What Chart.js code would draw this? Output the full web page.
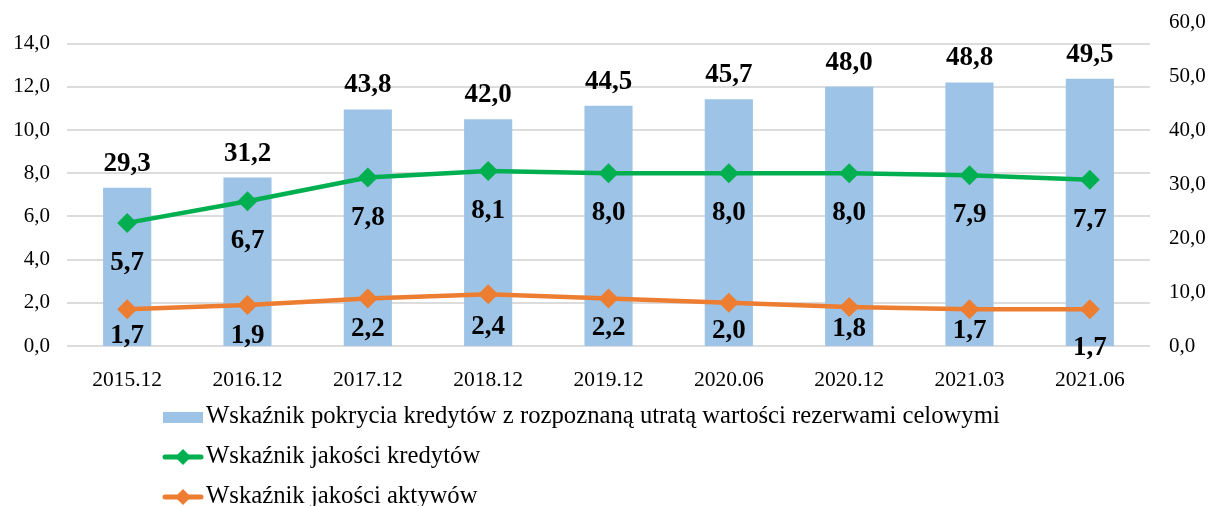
<!DOCTYPE html>
<html>
<head>
<meta charset="utf-8">
<script src="https://cdn.jsdelivr.net/npm/chart.js@4"></script>
<style>
  html, body { margin: 0; padding: 0; background: #fff; }
  canvas { display: block; }
</style>
</head>
<body>
<canvas id="chart" width="1209" height="506"></canvas>
<script>
// ── Data ─────────────────────────────────────────────────
const LABELS = ["2015.12", "2016.12", "2017.12", "2018.12", "2019.12", "2020.06", "2020.12", "2021.03", "2021.06"];
const COVERAGE = [29.3, 31.2, 43.8, 42.0, 44.5, 45.7, 48.0, 48.8, 49.5];
const LOAN_QUALITY = [5.7, 6.7, 7.8, 8.1, 8.0, 8.0, 8.0, 7.9, 7.7];
const ASSET_QUALITY = [1.7, 1.9, 2.2, 2.4, 2.2, 2.0, 1.8, 1.7, 1.7];
const LEFT_TICKS = [0, 2, 4, 6, 8, 10, 12, 14];

const SERIES_NAMES = [
  "Wskaźnik pokrycia kredytów z rozpoznaną utratą wartości rezerwami celowymi",
  "Wskaźnik jakości kredytów",
  "Wskaźnik jakości aktywów"
];

// ── Theme ────────────────────────────────────────────────
const FONT = "'Liberation Serif', 'Times New Roman', serif";
const BLUE = "#9dc3e6";
const GREEN = "#00b050";
const ORANGE = "#ed7d31";
const GRID = "#dcdcdc";

const fmt = v => Number(v).toFixed(1).replace(".", ",");

// ── Value labels (bars above, lines below) ───────────────
const valueLabels = {
  id: "valueLabels",
  afterDatasetsDraw(chart) {
    const { ctx } = chart;
    ctx.save();
    ctx.font = "bold 27px " + FONT;
    ctx.fillStyle = "#000";
    ctx.textAlign = "center";
    ctx.textBaseline = "alphabetic";
    chart.data.datasets.forEach((ds, i) => {
      const meta = chart.getDatasetMeta(i);
      meta.data.forEach((el, j) => {
        const txt = fmt(ds.data[j]);
        if (ds.type === "bar") {
          ctx.fillText(txt, el.x, el.y - 17);
        } else {
          const off = Array.isArray(ds.labelOffset) ? ds.labelOffset[j] : ds.labelOffset;
          ctx.fillText(txt, el.x, el.y + off);
        }
      });
    });
    ctx.restore();
  }
};

// ── Legend (vertical list under the axis) ────────────────
const sideLegend = {
  id: "sideLegend",
  afterDraw(chart) {
    const { ctx } = chart;
    const x0 = 163, rows = [417, 457, 497];
    ctx.save();
    ctx.font = "24.7px " + FONT;
    ctx.textBaseline = "middle";
    chart.data.datasets.forEach((ds, i) => {
      const y = rows[i];
      if (ds.type === "bar") {
        ctx.fillStyle = ds.backgroundColor;
        ctx.fillRect(x0, y - 5, 40, 11);
      } else {
        ctx.strokeStyle = ds.borderColor;
        ctx.lineWidth = 5;
        ctx.lineCap = "round";
        ctx.beginPath();
        ctx.moveTo(x0 + 2, y);
        ctx.lineTo(x0 + 38, y);
        ctx.stroke();
        ctx.fillStyle = ds.borderColor;
        ctx.beginPath();
        ctx.moveTo(x0 + 20, y - 8);
        ctx.lineTo(x0 + 28, y);
        ctx.lineTo(x0 + 20, y + 8);
        ctx.lineTo(x0 + 12, y);
        ctx.closePath();
        ctx.fill();
      }
      ctx.fillStyle = "#000";
      ctx.fillText(ds.label, x0 + 43, y);
    });
    ctx.restore();
  }
};

function lineDataset(label, data, color, labelOffset, order) {
  return {
    type: "line",
    label: label,
    data: data,
    yAxisID: "yL",
    borderColor: color,
    backgroundColor: color,
    borderWidth: 4.5,
    pointStyle: "rectRot",
    pointRadius: 10,
    pointBackgroundColor: color,
    pointBorderWidth: 0,
    tension: 0,
    fill: false,
    order: order,
    labelOffset: labelOffset
  };
}

// y scales: fixed width, no extra top/bottom padding from the tick labels
const fixY = w => s => {
  s.width = w;
  s.paddingTop = 0;
  s.paddingBottom = 0;
};

new Chart(document.getElementById("chart"), {
  data: {
    labels: LABELS,
    datasets: [
      {
        type: "bar",
        label: SERIES_NAMES[0],
        data: COVERAGE,
        yAxisID: "yR",
        backgroundColor: BLUE,
        barPercentage: 0.4,
        categoryPercentage: 1,
        order: 3
      },
      lineDataset(SERIES_NAMES[1], LOAN_QUALITY, GREEN, 47, 1),
      lineDataset(SERIES_NAMES[2], ASSET_QUALITY, ORANGE, [34, 38, 38, 40, 37, 35, 29, 29, 46], 2)
    ]
  },
  plugins: [valueLabels, sideLegend],
  options: {
    responsive: false,
    animation: false,
    layout: { padding: { top: 22, left: 0, right: 0, bottom: 0 } },
    plugins: {
      legend: { display: false },
      tooltip: { enabled: false }
    },
    scales: {
      x: {
        type: "category",
        grid: { display: false },
        border: { display: false },
        ticks: { color: "#000", font: { family: FONT, size: 21.5 }, padding: 13, maxRotation: 0 },
        afterFit: s => { s.height = 160; }
      },
      yL: {
        position: "left",
        min: 0,
        max: 15,
        grid: { color: GRID, lineWidth: 2, drawTicks: false },
        border: { display: false },
        ticks: {
          padding: 17,
          color: "#000",
          font: { family: FONT, size: 21 },
          callback: v => fmt(v)
        },
        afterBuildTicks: s => { s.ticks = LEFT_TICKS.map(v => ({ value: v })); },
        afterFit: fixY(67)
      },
      yR: {
        position: "right",
        min: 0,
        max: 60,
        grid: { display: false, drawTicks: false },
        border: { display: false },
        ticks: {
          stepSize: 10,
          padding: 19,
          color: "#000",
          font: { family: FONT, size: 21 },
          callback: v => fmt(v)
        },
        afterFit: fixY(59)
      }
    }
  }
});
</script>
</body>
</html>
